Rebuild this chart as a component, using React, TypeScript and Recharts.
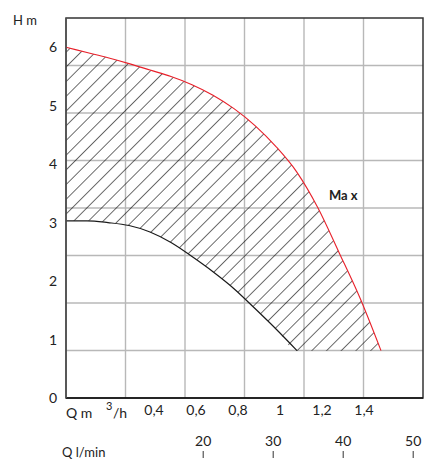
import {
  ComposedChart,
  Area,
  Line,
  XAxis,
  YAxis,
  CartesianGrid,
  ReferenceArea,
} from "recharts";

// flow in m3/h, read every 0,1
const flow = [0, 0.1, 0.2, 0.3, 0.4, 0.5, 0.6, 0.7, 0.8, 0.9, 1.0, 1.1, 1.2, 1.3, 1.4, 1.5];
// head of the Max curve (m)
const headMax = [6.0, 5.91, 5.82, 5.72, 5.61, 5.5, 5.36, 5.18, 4.95, 4.66, 4.3, 3.86, 3.25, 2.49, 1.71, 0.81];
// head of the lower curve (m), it stops at 1,1
const headMin = [3.03, 3.03, 3.0, 2.95, 2.84, 2.66, 2.42, 2.16, 1.87, 1.53, 1.18, 0.81];
// floor of the hatched field
const hatchFloor = 0.81;

const flowTicks = [0.4, 0.6, 0.8, 1, 1.2, 1.4];
const headTicks = [0, 1, 2, 3, 4, 5, 6];
const litreTicks = [20, 30, 40, 50];

const data = flow.map((q, i) => ({
  q,
  max: headMax[i],
  min: i < headMin.length ? headMin[i] : null,
  band: [i < headMin.length ? headMin[i] : hatchFloor, headMax[i]],
}));

const font = "Lato, 'Open Sans', sans-serif";

const FlowTick = ({ x, y, payload }: any) => (
  <text x={x + 4} y={y + 17} textAnchor="middle" fontSize={14} fontFamily={font} fill="#222">
    {String(payload.value).replace(".", ",")}
  </text>
);

// the second axis sits at the very bottom; draw label above its tick mark
const LitreTick = ({ x, y, payload }: any) => (
  <g>
    <text x={x} y={y - 12} textAnchor="middle" fontSize={14} fontFamily={font} fill="#222">
      {payload.value}
    </text>
    <line x1={x} x2={x} y1={y - 7} y2={y} stroke="#333" strokeWidth={1} />
  </g>
);

const HeadTick = ({ x, y, payload }: any) => (
  <text x={x} y={y + 5} textAnchor="end" fontSize={14} fontFamily={font} fill="#222">
    {payload.value}
  </text>
);

const txt = (extra: any) => ({
  position: "absolute" as const,
  fontFamily: font,
  fontSize: 14,
  lineHeight: "14px",
  color: "#222",
  whiteSpace: "nowrap" as const,
  ...extra,
});

export default function App() {
  return (
    <div style={{ position: "absolute", left: 0, top: 0, width: 444, height: 459, background: "#fff" }}>
      <ComposedChart
        width={444}
        height={459}
        data={data}
        margin={{ top: 18, right: 21, bottom: 0, left: 0 }}
      >
        <defs>
          <pattern
            id="hatch"
            patternUnits="userSpaceOnUse"
            width={10.4}
            height={10.4}
            patternTransform="rotate(45)"
          >
            <line x1={0} y1={0} x2={0} y2={10.4} stroke="#000" strokeWidth={1.15} />
          </pattern>
        </defs>
        <XAxis
          type="number"
          dataKey="q"
          domain={[0, 1.7]}
          ticks={flowTicks}
          height={30}
          tickSize={0}
          tickMargin={0}
          tickLine={false}
          axisLine={{ stroke: "#111", strokeWidth: 1.5 }}
          tick={<FlowTick />}
        />
        <XAxis
          xAxisId="litre"
          type="number"
          dataKey="q"
          domain={[0.4, 51.4]}
          allowDataOverflow
          ticks={litreTicks}
          height={31}
          tickSize={0}
          tickMargin={0}
          tickLine={false}
          axisLine={false}
          tick={<LitreTick />}
        />
        <XAxis xAxisId="grid" type="number" dataKey="q" domain={[0, 6]} allowDataOverflow hide />
        <YAxis
          type="number"
          domain={[0, 6.5]}
          ticks={headTicks}
          width={66}
          tickSize={0}
          tickMargin={9}
          tickLine={false}
          axisLine={{ stroke: "#555", strokeWidth: 1.5 }}
          tick={<HeadTick />}
        />
        <YAxis yAxisId="grid" type="number" domain={[0, 8]} allowDataOverflow hide />
        <CartesianGrid
          xAxisId="grid"
          yAxisId="grid"
          stroke="#b8b8b8"
          strokeWidth={1.4}
          verticalValues={[1, 2, 3, 4, 5]}
          horizontalValues={[1, 2, 3, 4, 5, 6, 7]}
        />
        <ReferenceArea x1={0} x2={1.7} y1={0} y2={6.5} fill="none" stroke="#333" strokeWidth={1.5} ifOverflow="visible" />
        <Area
          type="monotone"
          dataKey="band"
          stroke="none"
          fill="url(#hatch)"
          fillOpacity={1}
          isAnimationActive={false}
        />
        <Line
          type="monotone"
          dataKey="min"
          stroke="#1a1a1a"
          strokeWidth={1.2}
          dot={false}
          connectNulls={false}
          isAnimationActive={false}
        />
        <Line
          type="monotone"
          dataKey="max"
          stroke="#e8202a"
          strokeWidth={1.1}
          dot={false}
          isAnimationActive={false}
        />
      </ComposedChart>
      <div style={txt({ left: 13, top: 13, fontSize: 13 })}>H m</div>
      <div style={txt({ left: 66, top: 406 })}>Q m</div>
      <div style={txt({ left: 106, top: 400, fontSize: 11, lineHeight: "11px" })}>3</div>
      <div style={txt({ left: 113, top: 406 })}>/h</div>
      <div style={txt({ left: 62, top: 445, fontSize: 13 })}>Q l/min</div>
      <div style={txt({ left: 329, top: 188, fontSize: 13, fontWeight: 700 })}>Ma x</div>
    </div>
  );
}
